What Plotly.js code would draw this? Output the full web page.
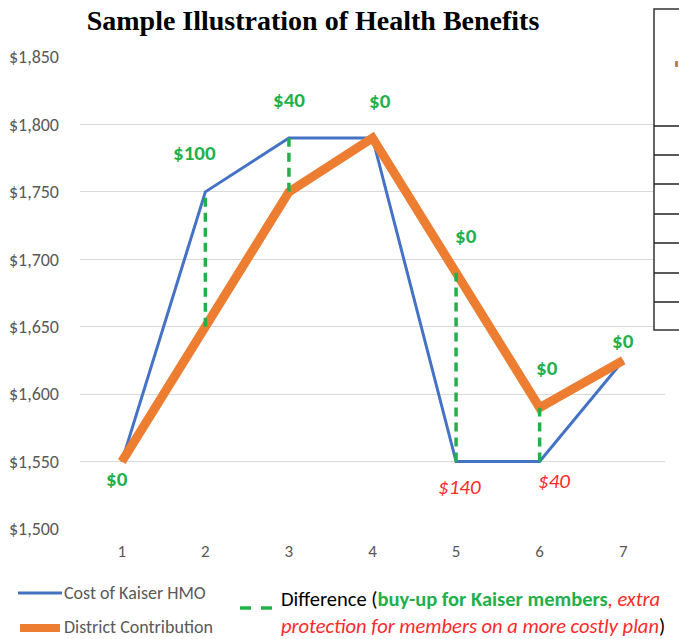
<!DOCTYPE html>
<html>
<head>
<meta charset="utf-8">
<script src="https://cdn.plot.ly/plotly-3.0.1.min.js"></script>
<style>html,body{margin:0;padding:0;background:#fff;}#chart{width:679px;height:639px;}</style>
</head>
<body>
<div id="chart"></div>
<script>
// ---- data ----
const xValues = [1, 2, 3, 4, 5, 6, 7];
const kaiserCost = [1550, 1750, 1790, 1790, 1550, 1550, 1625];
const districtContribution = [1550, 1650, 1750, 1790, 1690, 1590, 1625];
const buyUpLabels = ["$0", "$100", "$40", "$0", "$0", "$0", "$0"];
const protectionX = [5, 6];
const protectionLabels = ["$140", "$40"];
const seriesNames = ["Cost of Kaiser HMO", "District Contribution"];
const yTicks = [1500, 1550, 1600, 1650, 1700, 1750, 1800, 1850];
const yTickText = ["$1,500", "$1,550", "$1,600", "$1,650", "$1,700", "$1,750", "$1,800", "$1,850"];
const chartTitle = "Sample Illustration of Health Benefits";

// ---- styling ----
const BLUE = "#4472C4", ORANGE = "#ED7D31", GREEN = "#22B04B", RED = "#FF2B2B", GRAY = "#595959";
const FONT = "Carlito, Calibri, 'Liberation Sans Narrow', 'Liberation Sans', Arial, sans-serif";
const L = 80, R = 14, T = 57, B = 110, W = 679, H = 639;
const PW = W - L - R, PH = H - T - B;
const px = x => (x - L) / PW;
const py = y => (H - B - y) / PH;

// difference segments (dashed), built from the two series
const diffX = [], diffY = [];
xValues.forEach((x, i) => {
  if (kaiserCost[i] !== districtContribution[i]) {
    diffX.push(x, x, null);
    diffY.push(Math.min(kaiserCost[i], districtContribution[i]), Math.max(kaiserCost[i], districtContribution[i]), null);
  }
});

const traces = [
  {x: xValues, y: kaiserCost, name: seriesNames[0], mode: "lines", line: {color: BLUE, width: 3}, hoverinfo: "skip"},
  {x: xValues, y: districtContribution, name: seriesNames[1], mode: "lines", line: {color: ORANGE, width: 9}, hoverinfo: "skip"},
  {x: diffX, y: diffY, name: "Difference", mode: "lines", line: {color: GREEN, width: 3.5, dash: "9px,6px"}, hoverinfo: "skip"}
];

// label offsets (styling)
const greenShift = [[-5, -17], [-11, 39], [0, 38], [7, 37], [10, 37], [7, 40], [0, 19]];
const redShift = [[3, -25], [14, -19]];

const annotations = [];
xValues.forEach((x, i) => {
  const top = Math.max(kaiserCost[i], districtContribution[i]);
  const bottom = Math.min(kaiserCost[i], districtContribution[i]);
  const s = greenShift[i];
  annotations.push({x: x, y: s[1] < 0 ? bottom : top, xref: "x", yref: "y", text: "<b>" + buyUpLabels[i] + "</b>",
    showarrow: false, xshift: s[0], yshift: s[1], font: {family: FONT, size: 21, color: GREEN}});
});
protectionX.forEach((x, j) => {
  const i = xValues.indexOf(x);
  const bottom = Math.min(kaiserCost[i], districtContribution[i]);
  annotations.push({x: x, y: bottom, xref: "x", yref: "y", text: "<i>" + protectionLabels[j] + "</i>",
    showarrow: false, xshift: redShift[j][0], yshift: redShift[j][1], font: {family: FONT, size: 21, color: RED}});
});
// legend texts
annotations.push({x: px(62), y: py(593), xref: "paper", yref: "paper", xanchor: "left", yanchor: "middle",
  text: seriesNames[0], showarrow: false, font: {family: FONT, size: 18, color: GRAY}});
annotations.push({x: px(62), y: py(627), xref: "paper", yref: "paper", xanchor: "left", yanchor: "middle",
  text: seriesNames[1], showarrow: false, font: {family: FONT, size: 18, color: GRAY}});
annotations.push({x: px(279), y: py(612), xref: "paper", yref: "paper", xanchor: "left", yanchor: "middle", align: "left",
  text: "Difference (<span style='color:" + GREEN + "'><b>buy-up for Kaiser members</b></span><span style='color:" + RED + "'><i>, extra</i></span><br>" +
        "<span style='color:" + RED + "'><i>protection for members on a more costly plan</i></span>)",
  showarrow: false, font: {family: FONT, size: 20.5, color: "#000"}});

const shapes = [
  {type: "line", xref: "paper", yref: "paper", x0: px(18), x1: px(62), y0: py(593), y1: py(593), line: {color: BLUE, width: 3}},
  {type: "line", xref: "paper", yref: "paper", x0: px(20), x1: px(60), y0: py(628), y1: py(628), line: {color: ORANGE, width: 8}},
  {type: "line", xref: "paper", yref: "paper", x0: px(240), x1: px(251), y0: py(608), y1: py(608), line: {color: GREEN, width: 3.5}},
  {type: "line", xref: "paper", yref: "paper", x0: px(261), x1: px(272), y0: py(608), y1: py(608), line: {color: GREEN, width: 3.5}},
  // overlapping table fragment on the right
  {type: "rect", xref: "paper", yref: "paper", x0: px(654), x1: px(690), y0: py(330), y1: py(9), layer: "above",
    fillcolor: "#fff", line: {color: "#333", width: 1.5}}
];
[126, 155, 184, 214, 243, 273, 302].forEach(yy => shapes.push({type: "line", xref: "paper", yref: "paper",
  x0: px(654), x1: px(690), y0: py(yy), y1: py(yy), layer: "above", line: {color: "#222", width: 1.5}}));
shapes.push({type: "rect", xref: "paper", yref: "paper", x0: px(675), x1: px(678), y0: py(67), y1: py(61), layer: "above",
  fillcolor: "#C08A30", line: {width: 0}});

const layout = {
  width: W, height: H,
  margin: {l: L, r: R, t: T, b: B},
  paper_bgcolor: "#fff", plot_bgcolor: "#fff",
  showlegend: false,
  title: {text: "<b>" + chartTitle + "</b>", x: 313 / W, xref: "container", y: 1 - 20 / H, yref: "container",
    xanchor: "center", yanchor: "middle", font: {family: "'Liberation Serif', 'Times New Roman', serif", size: 28, color: "#000"}},
  xaxis: {range: [0.5, 7.5], tickvals: xValues, showgrid: false, zeroline: false, showline: false, ticks: "",
    ticklabelstandoff: 10, tickfont: {family: FONT, size: 17, color: GRAY}, fixedrange: true},
  yaxis: {range: [1500, 1850], tickvals: yTicks, ticktext: yTickText, gridcolor: "#D9D9D9", gridwidth: 1,
    zeroline: false, showline: false, ticks: "", ticklabelstandoff: 20, tickfont: {family: FONT, size: 18, color: GRAY}, fixedrange: true},
  annotations: annotations,
  shapes: shapes
};

Plotly.newPlot("chart", traces, layout, {displayModeBar: false, staticPlot: true});
</script>
</body>
</html>
